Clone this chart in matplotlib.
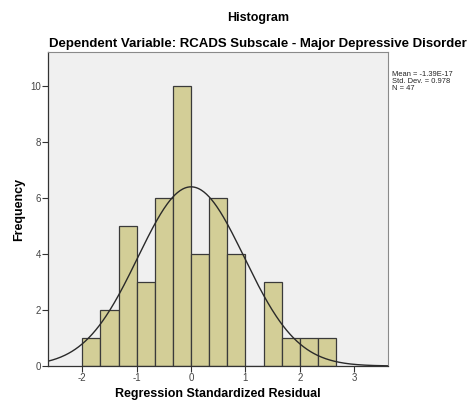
import matplotlib
matplotlib.use("Agg")
import matplotlib.pyplot as plt
import numpy as np

plt.rcParams['font.family'] = ['Liberation Sans', 'DejaVu Sans']
plt.rcParams['axes.unicode_minus'] = False

# histogram bins (width 1/3) and counts
bin_edges = [-2.0, -5/3, -4/3, -1.0, -2/3, -1/3, 0.0, 1/3, 2/3, 1.0, 4/3, 5/3, 2.0, 7/3, 8/3]
counts = [1, 2, 5, 3, 6, 10, 4, 6, 4, 0, 3, 1, 1, 1]
mean = -1.39e-17
std = 0.978
n = 47
x_ticks = [-2, -1, 0, 1, 2, 3]
y_ticks = [0, 2, 4, 6, 8, 10]


def main():
    fig = plt.figure(figsize=(4.70, 4.01), dpi=100)
    W, H = 470, 401
    left, right, top, bottom = 48, 388, 52, 366
    ax = fig.add_axes([left / W, 1 - bottom / H, (right - left) / W, (bottom - top) / H])
    ax.set_facecolor('#f0f0f0')

    edges = np.array(bin_edges)
    widths = np.diff(edges)
    ax.bar(edges[:-1], counts, width=widths, align='edge',
           color='#d3ce97', edgecolor='#3a3a3a', linewidth=0.9)

    # fitted normal curve scaled to counts
    xs = np.linspace(-2.63, 3.62, 400)
    bw = widths[0]
    ys = n * bw * np.exp(-0.5 * ((xs - mean) / std) ** 2) / (std * np.sqrt(2 * np.pi))
    ax.plot(xs, ys, color='#2a2a2a', linewidth=1.0)

    ax.set_xlim(-2.63, 3.62)
    ax.set_ylim(0, 11.2)
    ax.set_xticks(x_ticks)
    ax.set_yticks(y_ticks)
    ax.tick_params(labelsize=7, labelcolor='#444444', length=4, width=0.8,
                   color='#333333', direction='out', pad=1)
    for s in ['top', 'right']:
        ax.spines[s].set_color('#8a8a8a')
        ax.spines[s].set_linewidth(0.8)
    for s in ['left', 'bottom']:
        ax.spines[s].set_color('#333333')
        ax.spines[s].set_linewidth(0.9)

    ax.set_xlabel('Regression Standardized Residual', fontsize=9, fontweight='bold', labelpad=4)
    ax.set_ylabel('Frequency', fontsize=9, fontweight='bold', labelpad=4)

    fig.text(258 / W, 1 - 18 / H, 'Histogram', ha='center', va='center',
             fontsize=9, fontweight='bold')
    fig.text(258 / W, 1 - 44 / H, 'Dependent Variable: RCADS Subscale - Major Depressive Disorder',
             ha='center', va='center', fontsize=9.5, fontweight='bold')
    fig.text(392 / W, 1 - 71 / H,
             'Mean = -1.39E-17\nStd. Dev. = 0.978\nN = 47',
             ha='left', va='top', fontsize=5.4, linespacing=1.05, color='#222222')

    fig.savefig('out.png', dpi=100)


if __name__ == "__main__":
    main()
